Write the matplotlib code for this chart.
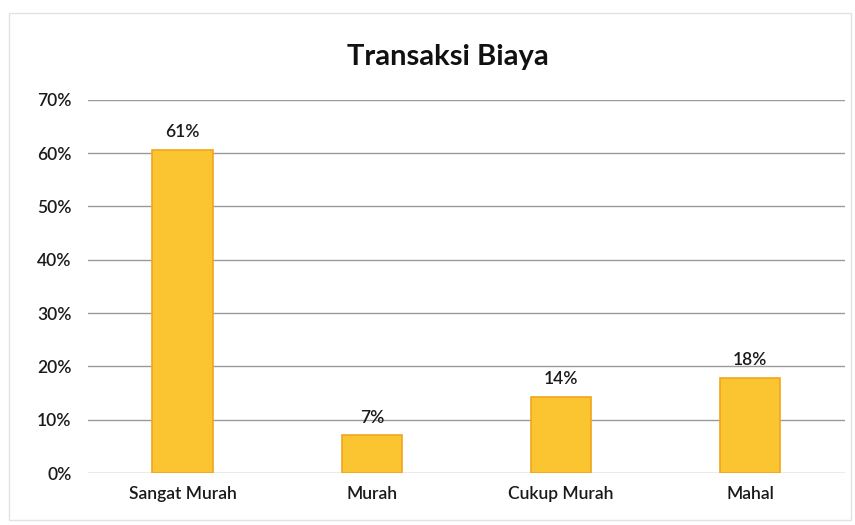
import matplotlib.pyplot as plt
from matplotlib.patches import Rectangle
from matplotlib.ticker import PercentFormatter

categories = ["Sangat Murah", "Murah", "Cukup Murah", "Mahal"]
values = [0.606, 0.071, 0.143, 0.179]
labels = ["61%", "7%", "14%", "18%"]

plt.rcParams['font.family'] = ['Lato', 'DejaVu Sans']

fig = plt.figure(figsize=(8.55, 5.25), dpi=100)
ax = fig.add_axes([0.103, 0.099, 0.885, 0.711])

# faint chart border, like the scanned original
fig.patches.append(Rectangle((0.01, 0.01), 0.985, 0.965, transform=fig.transFigure,
                             fill=False, edgecolor='#e2e2e2', linewidth=1))

x = range(len(categories))
bars = ax.bar(x, values, width=0.32, color='#FBC532', edgecolor='#F2A51E', linewidth=1.2, zorder=3)

for b, lab in zip(bars, labels):
    ax.text(b.get_x() + b.get_width() / 2, b.get_height() + 0.018, lab,
            ha='center', va='bottom', fontsize=12.5, fontweight='semibold', color='#1a1a1a')

ax.set_ylim(0, 0.70)
ax.set_xlim(-0.5, 3.5)
ax.set_yticks([i / 10 for i in range(8)])
ax.yaxis.set_major_formatter(PercentFormatter(1.0, decimals=0))
ax.set_xticks(list(x))
ax.set_xticklabels(categories)
ax.grid(axis='y', color='#9a9a9a', linewidth=1, zorder=0)
ax.tick_params(axis='both', length=0, labelsize=12.5, colors='#1a1a1a')
ax.tick_params(axis='y', pad=12)
ax.tick_params(axis='x', pad=9)
for t in ax.get_xticklabels() + ax.get_yticklabels():
    t.set_fontweight('semibold')
for s in ax.spines.values():
    s.set_visible(False)

fig.text(0.524, 0.892, "Transaksi Biaya", ha='center', va='center',
         fontsize=21, fontweight='bold', color='#111111')

fig.savefig('out.png', dpi=100)
